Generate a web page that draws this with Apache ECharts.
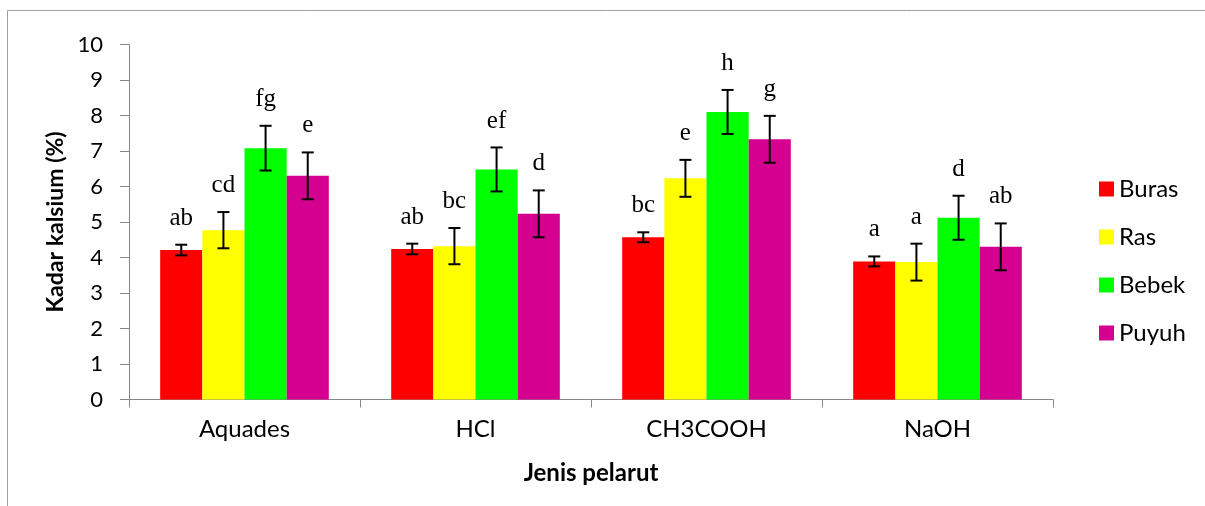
<!DOCTYPE html>
<html>
<head>
<meta charset="utf-8">
<script src="https://cdn.jsdelivr.net/npm/echarts@6/dist/echarts.min.js"></script>
<style>html,body{margin:0;padding:0;background:#fff;}#c{width:1205px;height:506px;}</style>
</head>
<body>
<div id="c"></div>
<script>
const categories = ['Aquades', 'HCl', 'CH3COOH', 'NaOH'];
const seriesNames = ['Buras', 'Ras', 'Bebek', 'Puyuh'];
const burasValues = [4.21, 4.24, 4.57, 3.89];
const rasValues = [4.77, 4.32, 6.23, 3.87];
const bebekValues = [7.08, 6.48, 8.10, 5.12];
const puyuhValues = [6.30, 5.23, 7.33, 4.30];
const burasErr = [0.15, 0.15, 0.14, 0.14];
const rasErr = [0.51, 0.51, 0.52, 0.52];
const bebekErr = [0.63, 0.62, 0.62, 0.62];
const puyuhErr = [0.66, 0.66, 0.66, 0.66];
const burasLetters = ['ab', 'ab', 'bc', 'a'];
const rasLetters = ['cd', 'bc', 'e', 'a'];
const bebekLetters = ['fg', 'ef', 'h', 'd'];
const puyuhLetters = ['e', 'd', 'g', 'ab'];
const yTicks = [0, 1, 2, 3, 4, 5, 6, 7, 8, 9, 10];

const values = [burasValues, rasValues, bebekValues, puyuhValues];
const errs = [burasErr, rasErr, bebekErr, puyuhErr];
const letters = [burasLetters, rasLetters, bebekLetters, puyuhLetters];
const colors = ['#FF0000', '#FFFF00', '#00FF00', '#D5008F'];
const GAP = 0.27;
const sans = 'Lato, "Liberation Sans", sans-serif';

const chart = echarts.init(document.getElementById('c'), null, {renderer: 'canvas'});

const barSeries = seriesNames.map((n, i) => ({
  name: n, type: 'bar', data: values[i],
  barGap: '0%', barCategoryGap: (GAP * 100) + '%',
  itemStyle: {color: colors[i]},
  emphasis: {disabled: true}
}));

const errSeries = seriesNames.map((n, s) => ({
  type: 'custom',
  name: n + '_err',
  z: 5,
  data: values[s].map((v, k) => [k, v, errs[s][k]]),
  renderItem: function (params, api) {
    const k = api.value(0), v = api.value(1), e = api.value(2);
    const top = api.coord([k, v + e]);
    const bot = api.coord([k, v - e]);
    const bandW = api.size([1, 0])[0];
    const barW = bandW * (1 - GAP) / 4;
    const x = top[0] + (s - 1.5) * barW;
    const cap = 6;
    const st = {stroke: '#000', lineWidth: 2};
    return {
      type: 'group',
      children: [
        {type: 'line', shape: {x1: x, y1: top[1], x2: x, y2: bot[1]}, style: st},
        {type: 'line', shape: {x1: x - cap, y1: top[1], x2: x + cap, y2: top[1]}, style: st},
        {type: 'line', shape: {x1: x - cap, y1: bot[1], x2: x + cap, y2: bot[1]}, style: st},
        {type: 'text', x: x, y: top[1] - 14,
          style: {text: letters[s][params.dataIndex], fill: '#000',
            font: '25px "Liberation Serif", "Times New Roman", serif',
            align: 'center', verticalAlign: 'bottom'}}
      ]
    };
  }
}));

chart.setOption({
  animation: false,
  backgroundColor: '#fff',
  graphic: [{type: 'rect', shape: {x: 7.5, y: 10.5, width: 1400, height: 700},
    style: {fill: 'none', stroke: '#A0A0A0', lineWidth: 1}, silent: true, z: -10}],
  grid: {left: 129, right: 152, top: 44.5, bottom: 106.5, containLabel: false},
  legend: {
    orient: 'vertical', left: 1094, top: 172,
    itemWidth: 15, itemHeight: 15, itemGap: 24,
    icon: 'rect',
    data: seriesNames,
    textStyle: {fontFamily: sans, fontSize: 24, color: '#000'}
  },
  xAxis: {
    type: 'category', data: categories,
    axisLine: {lineStyle: {color: '#888', width: 1}},
    axisTick: {show: true, length: 8, lineStyle: {color: '#888'}},
    axisLabel: {fontFamily: sans, fontSize: 24, color: '#000', margin: 18},
    name: 'Jenis pelarut', nameLocation: 'middle', nameGap: 62,
    nameTextStyle: {fontFamily: sans, fontSize: 24, fontWeight: 'bold', color: '#000'}
  },
  yAxis: {
    type: 'value', min: 0, max: 10, interval: 1,
    axisLine: {show: true, lineStyle: {color: '#888', width: 1}},
    axisTick: {show: true, length: 9, lineStyle: {color: '#888'}},
    splitLine: {show: false},
    axisLabel: {fontFamily: sans, fontSize: 22, color: '#000', margin: 26,
      formatter: v => yTicks.includes(v) ? String(v) : ''},
    name: 'Kadar kalsium (%)', nameLocation: 'middle', nameGap: 58,
    nameTextStyle: {fontFamily: sans, fontSize: 23, fontWeight: 'bold', color: '#000'}
  },
  series: barSeries.concat(errSeries)
});
</script>
</body>
</html>
